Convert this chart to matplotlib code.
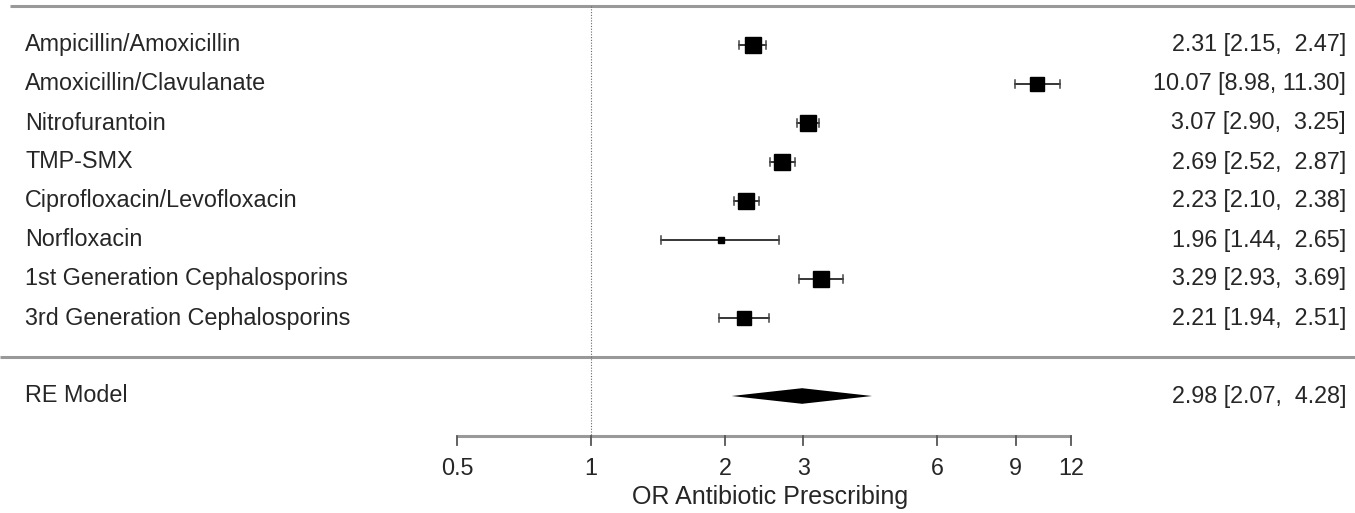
import matplotlib
matplotlib.use("Agg")
import matplotlib.pyplot as plt
import numpy as np
from matplotlib.transforms import blended_transform_factory
from matplotlib.patches import Polygon

labels = ["Ampicillin/Amoxicillin", "Amoxicillin/Clavulanate", "Nitrofurantoin", "TMP-SMX",
          "Ciprofloxacin/Levofloxacin", "Norfloxacin", "1st Generation Cephalosporins",
          "3rd Generation Cephalosporins"]
est = [2.31, 10.07, 3.07, 2.69, 2.23, 1.96, 3.29, 2.21]
lo = [2.15, 8.98, 2.90, 2.52, 2.10, 1.44, 2.93, 1.94]
hi = [2.47, 11.30, 3.25, 2.87, 2.38, 2.65, 3.69, 2.51]
sizes = [11.5, 10.5, 11.5, 11.0, 11.0, 4.5, 11.0, 10.5]
re_label = "RE Model"
re_est, re_lo, re_hi = 2.98, 2.07, 4.28
xticks = [0.5, 1, 2, 3, 6, 9, 12]
xlabel = "OR Antibiotic Prescribing"

W, H = 1355, 513
fig = plt.figure(figsize=(W / 100, H / 100), dpi=100)
ax = fig.add_axes([0, 0, 1, 1])
ax.set_xscale("log")
x0px, ppu = 591, 134.0
ax.set_xlim(2 ** (-x0px / ppu), 2 ** ((W - x0px) / ppu))
ax.set_ylim((H - 6) / 39.0, -6 / 39.0)
ax.axis("off")

font = "Liberation Sans"
fs = 16.8
tc = "#262626"
bt = blended_transform_factory(ax.transAxes, ax.transData)

# horizontal rules
ax.plot([10 / W, 1], [0, 0], transform=bt, color="#999999", lw=2.2, solid_capstyle="butt")
ax.plot([0, 1], [9, 9], transform=bt, color="#999999", lw=2.2, solid_capstyle="butt")
# reference line
ax.plot([1, 1], [0, 11.03], color="#666666", lw=0.8, ls=(0, (1, 1.5)))

rows = np.arange(1, len(labels) + 1)
for r, lab, e, l, h, s in zip(rows, labels, est, lo, hi, sizes):
    ax.plot([l, h], [r, r], color="black", lw=1.1)
    ax.plot([l, l], [r - 0.11, r + 0.11], color="#444444", lw=1.1)
    ax.plot([h, h], [r - 0.11, r + 0.11], color="#444444", lw=1.1)
    ax.plot([e], [r], marker="s", ms=s, color="black", mec="black")
    ax.text(25 / W, r, lab, transform=bt, ha="left", va="center", fontsize=fs, family=font, color=tc)
    ax.text(1346 / W, r, f"{e:.2f} [{l:.2f}, {h:5.2f}]", transform=bt, ha="right", va="center",
            fontsize=fs, family=font, color=tc)

# RE model diamond
ry = 10
ax.add_patch(Polygon([[re_lo, ry], [re_est, ry - 0.2], [re_hi, ry], [re_est, ry + 0.2]],
                     closed=True, color="black", lw=0))
ax.text(25 / W, ry, re_label, transform=bt, ha="left", va="center", fontsize=fs, family=font, color=tc)
ax.text(1346 / W, ry, f"{re_est:.2f} [{re_lo:.2f}, {re_hi:5.2f}]", transform=bt, ha="right",
        va="center", fontsize=fs, family=font, color=tc)

# x axis
ay = 11.03
ax.plot([xticks[0], xticks[-1]], [ay, ay], color="#999999", lw=2.2, solid_capstyle="butt")
for t in xticks:
    ax.plot([t, t], [ay, ay + 0.22], color="#555555", lw=1.3)
    ax.text(t, ay + 0.82, f"{t:g}", ha="center", va="center", fontsize=fs, family=font, color=tc)
ax.text(np.sqrt(xticks[0] * xticks[-1]) * 1.03, ay + 1.57, xlabel, ha="center", va="center",
        fontsize=fs + 1.2, family=font, color=tc)

fig.savefig("out.png", dpi=100)
